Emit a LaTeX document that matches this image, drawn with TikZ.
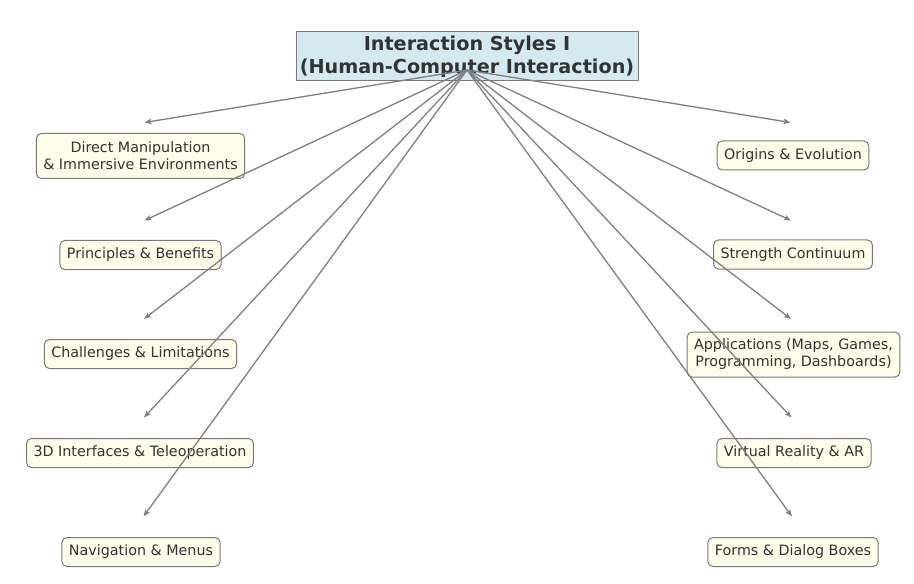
\documentclass[tikz,border=0pt]{standalone}
\usepackage{fontspec}
\setmainfont{DejaVu Sans}
\usetikzlibrary{arrows.meta}
\definecolor{titlefill}{HTML}{D5E9F1}
\definecolor{nodefill}{HTML}{FEFDEA}
\definecolor{edgegray}{HTML}{808080}
\definecolor{bordergray}{HTML}{7A7A7A}
\definecolor{txt}{HTML}{333333}
\tikzset{
  topic/.style={draw=bordergray, line width=1bp, fill=nodefill, rounded corners=5bp,
    text=txt, align=center, font=\fontsize{14.3bp}{17bp}\selectfont,
    inner xsep=7bp, inner ysep=2bp, minimum height=29bp},
  topictwo/.style={topic, minimum height=45bp},
  titlebox/.style={draw=bordergray, line width=1bp, fill=titlefill, text=txt,
    align=center, font=\fontsize{19.2bp}{23bp}\selectfont\bfseries,
    minimum width=342bp, minimum height=49bp, inner sep=2bp},
  link/.style={draw=edgegray, line width=1.3bp, -{Stealth[length=7bp,width=5.5bp,inset=1.5bp]}}
}
\begin{document}
\begin{tikzpicture}[x=1bp,y=-1bp]
\useasboundingbox (0,0) rectangle (914,584);
\node[titlebox] (title) at (467,56.5) {Interaction Styles I\\(Human-Computer Interaction)};
\node[topictwo] (dm) at (140.5,156) {Direct Manipulation\\\& Immersive Environments};
\node[topic] (pb) at (140.5,255) {Principles \& Benefits};
\node[topic] (cl) at (140.5,354) {Challenges \& Limitations};
\node[topic] (td) at (140,453) {3D Interfaces \& Teleoperation};
\node[topic] (nm) at (141,552) {Navigation \& Menus};
\node[topic] (oe) at (793,155.5) {Origins \& Evolution};
\node[topic] (sc) at (793,254.5) {Strength Continuum};
\node[topictwo] (ap) at (793.5,354.5) {Applications (Maps, Games,\\Programming, Dashboards)};
\node[topic] (vr) at (794,453) {Virtual Reality \& AR};
\node[topic] (fd) at (793,552) {Forms \& Dialog Boxes};
\coordinate (src) at (467,70);
\coordinate (l1) at (144.5,122.5);
\coordinate (l2) at (144.5,220.5);
\coordinate (l3) at (144,319);
\coordinate (l4) at (144,417.5);
\coordinate (l5) at (143.5,516.5);
\coordinate (r1) at (790.5,122.5);
\coordinate (r2) at (791,220.5);
\coordinate (r3) at (791,319);
\coordinate (r4) at (791.5,417.5);
\coordinate (r5) at (792,516.5);
\foreach \e in {l1,l2,l3,l4,l5,r1,r2,r3,r4,r5}{
  \draw[link] (src) -- (\e);
}
\end{tikzpicture}
\end{document}
